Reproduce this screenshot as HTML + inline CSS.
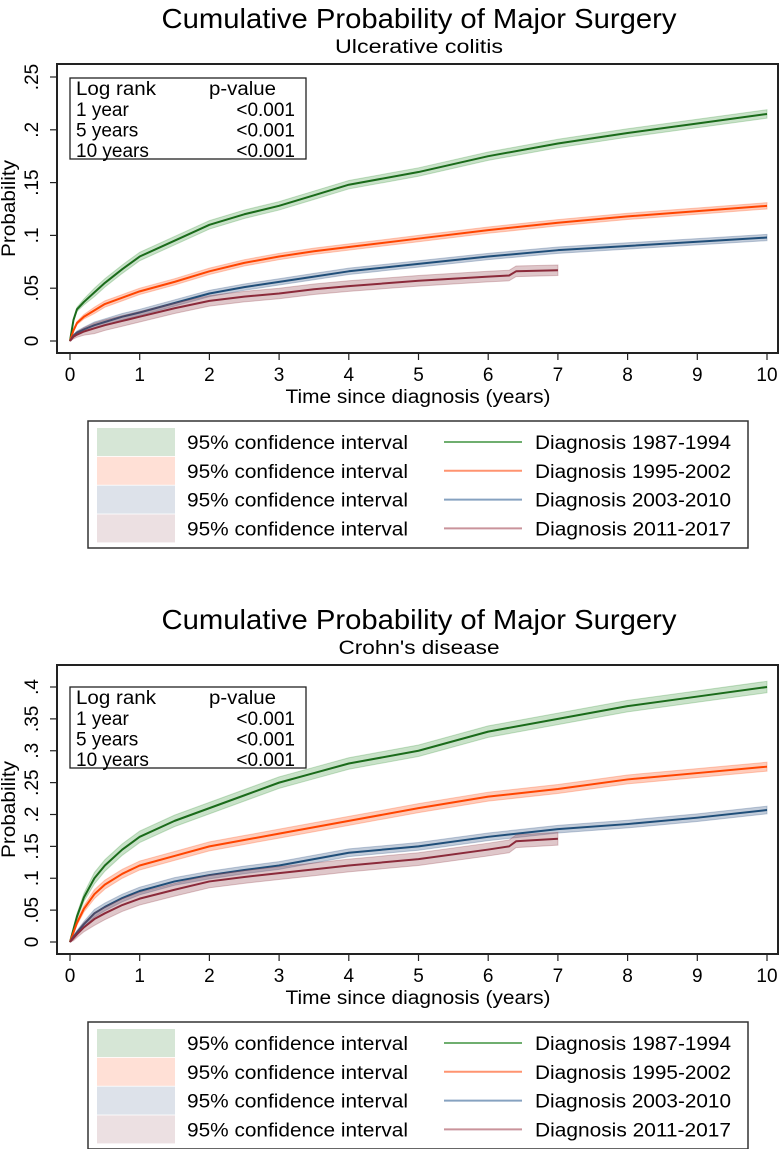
<!DOCTYPE html>
<html><head><meta charset="utf-8"><title>Cumulative Probability of Major Surgery</title>
<style>body{margin:0;background:#fff}svg{display:block;font-family:"Liberation Sans",Arial,sans-serif}</style>
</head><body>
<svg id="chart" width="780" height="1149" viewBox="0 0 780 1149"></svg>
<script>
const periods = ["Diagnosis 1987-1994","Diagnosis 1995-2002","Diagnosis 2003-2010","Diagnosis 2011-2017"];
const xTicks = [0,1,2,3,4,5,6,7,8,9,10];
const ucTicks = [0,0.05,0.1,0.15,0.2,0.25];
const ucTickLabels = ["0",".05",".1",".15",".2",".25"];
const cdTicks = [0,0.05,0.1,0.15,0.2,0.25,0.3,0.35,0.4];
const cdTickLabels = ["0",".05",".1",".15",".2",".25",".3",".35",".4"];
const tFull = [0,0.05,0.1,0.2,0.35,0.5,0.75,1,1.5,2,2.5,3,3.5,4,5,6,7,8,9,10];
const tShort = [0,0.05,0.1,0.2,0.35,0.5,0.75,1,1.5,2,2.5,3,3.5,4,5,6,6.3,6.4,7];
const ucG = [0,0.02,0.03,0.037,0.046,0.055,0.068,0.08,0.095,0.11,0.12,0.128,0.138,0.148,0.16,0.175,0.187,0.197,0.206,0.215];
const ucO = [0,0.01,0.017,0.023,0.029,0.035,0.041,0.047,0.056,0.066,0.074,0.08,0.085,0.089,0.097,0.105,0.112,0.118,0.123,0.128];
const ucB = [0,0.005,0.008,0.011,0.015,0.018,0.023,0.027,0.036,0.045,0.051,0.056,0.061,0.066,0.073,0.08,0.086,0.09,0.094,0.098];
const ucR = [0,0.004,0.006,0.009,0.012,0.015,0.019,0.023,0.031,0.038,0.042,0.045,0.049,0.052,0.057,0.061,0.062,0.066,0.067];
const ucHalf = [0.004,0.003,0.003,0.005];
const cdG = [0,0.02,0.04,0.07,0.1,0.12,0.145,0.165,0.19,0.21,0.23,0.25,0.265,0.28,0.30,0.33,0.35,0.37,0.385,0.40];
const cdO = [0,0.015,0.03,0.052,0.075,0.09,0.107,0.12,0.135,0.15,0.16,0.17,0.18,0.19,0.21,0.228,0.24,0.255,0.265,0.275];
const cdB = [0,0.008,0.015,0.028,0.045,0.055,0.069,0.08,0.095,0.105,0.113,0.12,0.13,0.14,0.15,0.165,0.177,0.185,0.195,0.207];
const cdR = [0,0.006,0.012,0.023,0.036,0.045,0.058,0.068,0.082,0.095,0.102,0.108,0.114,0.12,0.13,0.145,0.15,0.158,0.162];
const cdHalf = [0.009,0.007,0.006,0.01];
const logRankRows = [["1 year","<0.001"],["5 years","<0.001"],["10 years","<0.001"]];

const lineCols = ["#1a6b1a","#ff4500","#1f4e79","#8b2a3a"];
const bandCols = ["rgba(60,150,60,0.28)","rgba(255,110,60,0.35)","rgba(80,110,150,0.35)","rgba(150,70,80,0.3)"];
const legSw = ["#d6e6d6","#ffe0d6","#dde2ea","#ece0e2"];
const legLn = ["#6fae6f","#ff9470","#86a2c0","#c9939b"];
const NS="http://www.w3.org/2000/svg";
const svg=document.getElementById('chart');
function mk(tag,attrs,parent,txt){const e=document.createElementNS(NS,tag);for(const k in attrs)e.setAttribute(k,attrs[k]);if(txt!==undefined)e.textContent=txt;(parent||svg).appendChild(e);return e;}

function panel(y0, title, subtitle, yMax, ticks, tickLabels, series, halves, name){
  const g=mk('g',{});
  
  
  const L=57,R=778,T=y0+64,B=y0+353;
  const yZero=y0+341, yTop=(name==='uc')?y0+77:y0+86;
  const xs=v=>70+v*69.7;
  const ys=v=>yZero-(v/yMax)*(yZero-yTop);
  let t=mk('text',{x:419,y:y0+28,'text-anchor':'middle','font-size':28,textLength:515,lengthAdjust:'spacingAndGlyphs'},g,title);
  
  t=mk('text',{x:419,y:y0+53,'text-anchor':'middle','font-size':19,textLength:(name==='uc'?168:161),lengthAdjust:'spacingAndGlyphs'},g,subtitle);
  
  const fr=mk('rect',{x:L,y:T,width:R-L,height:B-T,fill:'none',stroke:'#222','stroke-width':2},g);
  
  ticks.forEach((v,i)=>{
    mk('line',{x1:L-7,x2:L,y1:ys(v),y2:ys(v),stroke:'#222','stroke-width':1.2},g);
    const tl=mk('text',{transform:`translate(38,${ys(v)}) rotate(-90)`,'text-anchor':'middle','font-size':19},g,tickLabels[i]);
    
  });
  xTicks.forEach(v=>{
    mk('line',{x1:xs(v),x2:xs(v),y1:B,y2:B+7,stroke:'#222','stroke-width':1.2},g);
    const tl=mk('text',{x:xs(v),y:B+28,'text-anchor':'middle','font-size':19},g,String(v));
    
  });
  t=mk('text',{transform:`translate(15,${(T+B)/2}) rotate(-90)`,'text-anchor':'middle','font-size':19,textLength:97,lengthAdjust:'spacingAndGlyphs'},g,'Probability');
  
  t=mk('text',{x:418,y:B+50,'text-anchor':'middle','font-size':19,textLength:265,lengthAdjust:'spacingAndGlyphs'},g,'Time since diagnosis (years)');
  
  series.forEach((vals,si)=>{
    const tt=vals.length===tFull.length?tFull:tShort;
    const h=halves[si];
    const hw=i=>i===0?0:h*Math.min(1,tt[i]*2+0.3);
    const up=vals.map((v,i)=>xs(tt[i])+','+ys(v+hw(i)));
    const lo=vals.map((v,i)=>xs(tt[i])+','+ys(Math.max(0,v-hw(i)))).reverse();
    const band=mk('polygon',{points:up.concat(lo).join(' '),fill:bandCols[si],stroke:bandCols[si],'stroke-width':1},g);
    
    const ln=mk('polyline',{points:vals.map((v,i)=>xs(tt[i])+','+ys(v)).join(' '),fill:'none',stroke:lineCols[si],'stroke-width':2,'stroke-linejoin':'round'},g);
    
  });
  const by=(name==='uc')?y0+78:y0+86;
  const ib=mk('rect',{x:70,y:by,width:236,height:81,fill:'#fff',stroke:'#222','stroke-width':1.3},g);
  
  mk('text',{x:76,y:by+17,'font-size':19,textLength:80,lengthAdjust:'spacingAndGlyphs'},g,'Log rank');
  mk('text',{x:209,y:by+17,'font-size':19,textLength:67,lengthAdjust:'spacingAndGlyphs'},g,'p-value');
  logRankRows.forEach((r,i)=>{
    mk('text',{x:76,y:by+38+i*20.5,'font-size':19},g,r[0]);
    mk('text',{x:295,y:by+38+i*20.5,'font-size':19,'text-anchor':'end'},g,r[1]);
  });
  const ly=B+68;
  const lg=mk('g',{},g);
  
  mk('rect',{x:88,y:ly,width:660,height:127,fill:'#fff',stroke:'#333','stroke-width':1.5},lg);
  periods.forEach((p,i)=>{
    const ry=ly+21+i*28.8;
    mk('rect',{x:97,y:ry-14,width:78,height:28,fill:legSw[i]},lg);
    const e1=mk('text',{x:187,y:ry+7,'font-size':19,textLength:221,lengthAdjust:'spacingAndGlyphs'},lg,'95% confidence interval');
    
    mk('line',{x1:444,x2:522,y1:ry,y2:ry,stroke:legLn[i],'stroke-width':2},lg);
    const e2=mk('text',{x:535,y:ry+7,'font-size':19,textLength:196,lengthAdjust:'spacingAndGlyphs'},lg,p);
    
  });
}
panel(0,'Cumulative Probability of Major Surgery','Ulcerative colitis',0.25,ucTicks,ucTickLabels,[ucG,ucO,ucB,ucR],ucHalf,'uc');
panel(601,'Cumulative Probability of Major Surgery',"Crohn's disease",0.4,cdTicks,cdTickLabels,[cdG,cdO,cdB,cdR],cdHalf,'cd');
</script>
</body></html>
